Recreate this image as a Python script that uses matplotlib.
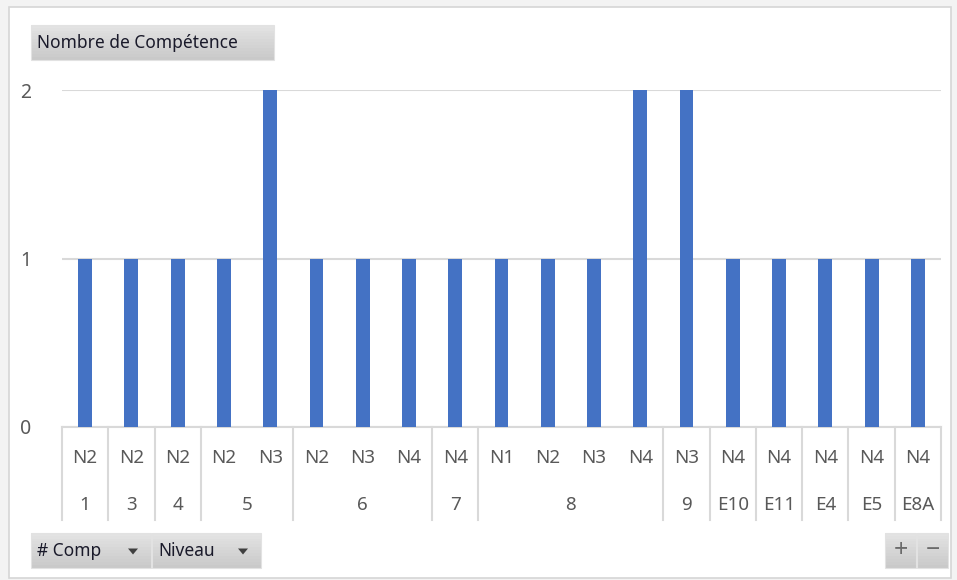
import matplotlib.pyplot as plt
from matplotlib.patches import Rectangle, Polygon
from matplotlib.lines import Line2D
from matplotlib.transforms import blended_transform_factory

comp = ["1", "3", "4", "5", "5", "6", "6", "6", "7", "8", "8", "8", "8", "9", "E10", "E11", "E4", "E5", "E8A"]
niveau = ["N2", "N2", "N2", "N2", "N3", "N2", "N3", "N4", "N4", "N1", "N2", "N3", "N4", "N3", "N4", "N4", "N4", "N4", "N4"]
nombre = [1, 1, 1, 1, 2, 1, 1, 1, 1, 1, 1, 1, 2, 2, 1, 1, 1, 1, 1]

W = 957
H = 580
BAR_COLOR = "#4472c4"
GRID_COLOR = "#d9d9d9"
TEXT_COLOR = "#595959"

plt.rcParams["font.family"] = ["Noto Sans", "DejaVu Sans"]

fig = plt.figure(figsize=(W / 100, H / 100), dpi=100, facecolor="#f3f3f3")


def px_rect(x0, y0, x1, y1):
    # pixel box (top-left origin) -> figure fraction
    return x0 / W, 1 - y1 / H, (x1 - x0) / W, (y1 - y0) / H


def add_button(x0, y0, x1, y1, label, arrow=False, center=False):
    l, b, w, h = px_rect(x0, y0, x1, y1)
    # vertical gradient made of thin bands, light at top
    n = 12
    for k in range(n):
        shade = 0.89 - 0.1 * k / (n - 1)
        fig.patches.append(Rectangle((l, b + h * (n - 1 - k) / n), w, h / n + 0.0005,
                                     transform=fig.transFigure, facecolor=(shade, shade, shade),
                                     edgecolor="none", zorder=3))
    fig.patches.append(Rectangle((l, b), w, h, transform=fig.transFigure,
                                 facecolor="none", edgecolor="#e2e2e2", lw=0.8, zorder=3))
    if center:
        fig.text(l + w / 2, b + h / 2, label, ha="center", va="center",
                 fontsize=18, color="#6b6b6b", fontweight="bold", zorder=4)
    else:
        fig.text(l + 6 / W, b + h / 2, label, ha="left", va="center",
                 fontsize=12.5, color="#1a1a2a", zorder=4)
    if arrow:
        cx = x1 - 18
        cy = (y0 + y1) / 2 + 1
        tri = [((cx - 5) / W, 1 - (cy - 3) / H), ((cx + 5) / W, 1 - (cy - 3) / H),
               (cx / W, 1 - (cy + 3) / H)]
        fig.patches.append(Polygon(tri, closed=True, transform=fig.transFigure,
                                   facecolor="#404040", edgecolor="none", zorder=4))


# white chart area
l, b, w, h = px_rect(9, 7, 951, 578)
fig.patches.append(Rectangle((l, b), w, h, transform=fig.transFigure,
                             facecolor="white", edgecolor="#d6d6d6", lw=1.2, zorder=-5))

ax = fig.add_axes(px_rect(62, 90, 941, 427))
ax.set_zorder(1)
x = list(range(len(nombre)))
ax.bar(x, nombre, width=0.3, color=BAR_COLOR, zorder=3)
ax.set_xlim(-0.5, len(nombre) - 0.5)
ax.set_ylim(0, 2)
ax.set_yticks([0, 1, 2])
ax.set_xticks([])
ax.tick_params(axis="y", length=0, pad=22, labelsize=14, labelcolor=TEXT_COLOR)
ax.grid(axis="y", color=GRID_COLOR, lw=1.5, zorder=0)
for side in ["top", "right", "left"]:
    ax.spines[side].set_visible(False)
ax.spines["bottom"].set_color(GRID_COLOR)
ax.spines["bottom"].set_linewidth(1.5)
ax.set_facecolor("none")

# two-level category axis
trans = blended_transform_factory(ax.transData, ax.transAxes)
row1 = (427 - 458) / 337
row2 = (427 - 505) / 337
sep_bottom = (427 - 520) / 337

for i in x:
    ax.text(i, row1, niveau[i], transform=trans, ha="center", va="center",
            fontsize=13.5, color=TEXT_COLOR)

groups = []
start = 0
for i in range(1, len(comp) + 1):
    if i == len(comp) or comp[i] != comp[start]:
        groups.append((start, i - 1, comp[start]))
        start = i

for g0, g1, name in groups:
    ax.text((g0 + g1) / 2, row2, name, transform=trans, ha="center", va="center",
            fontsize=13.5, color=TEXT_COLOR)
    ax.add_line(Line2D([g0 - 0.5, g0 - 0.5], [0, sep_bottom], transform=trans,
                       color=GRID_COLOR, lw=1.5, clip_on=False))
ax.add_line(Line2D([len(comp) - 0.5, len(comp) - 0.5], [0, sep_bottom], transform=trans,
                   color=GRID_COLOR, lw=1.5, clip_on=False))

# pivot chart field buttons
add_button(31, 25, 274, 60, "Nombre de Compétence")
add_button(31, 533, 151, 568, "# Comp", arrow=True)
add_button(152, 533, 261, 568, "Niveau", arrow=True)
add_button(885, 533, 916, 568, "+", center=True)
add_button(917, 533, 948, 568, "\u2212", center=True)

plt.savefig("out.png", dpi=100, facecolor=fig.get_facecolor())
